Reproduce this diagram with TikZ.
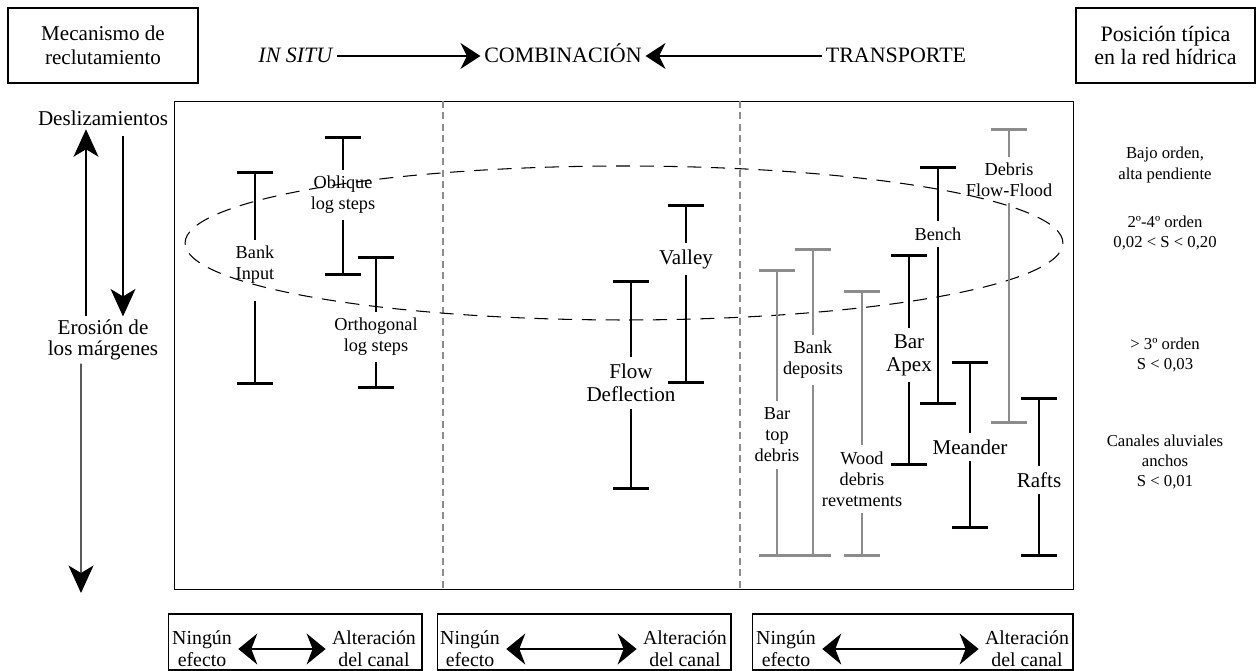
\documentclass[tikz,border=0pt]{standalone}
\usepackage{fontspec}
\setmainfont{Liberation Serif}
\usetikzlibrary{arrows.meta}

\begin{document}
\begin{tikzpicture}[x=0.02cm,y=-0.02cm]
  \tikzstyle{frame}=[draw,line width=0.6pt]
  \tikzstyle{head}=[font=\fontsize{12.5}{14}\selectfont,inner sep=2pt,text height=10.3pt,text depth=2.5pt]
  \tikzstyle{tbox}=[draw,line width=0.7pt,align=center,font=\fontsize{12}{13.6}\selectfont]
  \tikzstyle{side}=[align=center,inner sep=2pt,font=\fontsize{12}{11.5}\selectfont]
  \tikzstyle{rank}=[align=center,font=\fontsize{9.5}{11.4}\selectfont]
  \tikzstyle{bot}=[align=center,inner sep=3.5pt,font=\fontsize{11.3}{12.4}\selectfont]
  \tikzstyle{lbl}=[align=center,inner sep=3.5pt,font=\fontsize{10.4}{12}\selectfont]
  \tikzstyle{lblbig}=[align=center,inner sep=3.5pt,font=\fontsize{12}{13.2}\selectfont]
  \tikzstyle{stem}=[line width=1.5pt,{Bar[width=0.72cm]}-]
  \tikzstyle{stemgray}=[stem,draw=black!45]
  \tikzstyle{divider}=[draw=black!45,line width=1pt,dash pattern=on 4pt off 2.5pt]
  \tikzstyle{ring}=[line width=0.6pt,dash pattern=on 8pt off 5.5pt]
  \tikzstyle{harrow}=[line width=0.8pt,-{Stealth[length=0.4cm,width=0.52cm,inset=0.13cm]}]
  \tikzstyle{varrow}=[line width=0.6pt,-{Stealth[length=0.55cm,width=0.5cm,inset=0.15cm]}]
  \tikzstyle{barrow}=[line width=0.8pt,{Stealth[length=0.38cm,width=0.62cm,inset=0.12cm]}-{Stealth[length=0.38cm,width=0.62cm,inset=0.12cm]}]
  \useasboundingbox (0,0) rectangle (1256,671);

  % header
  \node[tbox,minimum width=3.8cm,minimum height=1.5cm] (mech) at (103,45.5) {Mecanismo de\\reclutamiento};
  \node[tbox,minimum width=3.58cm,minimum height=1.5cm,font=\fontsize{12.5}{13.6}\selectfont] (pos) at (1165.5,45.5) {Posición típica\\en la red hídrica};
  \node[head] (insitu) at (296,56) {\textit{IN SITU}};
  \node[head] (comb) at (563,56) {COMBINACIÓN};
  \node[head] (transp) at (896,56) {TRANSPORTE};
  \draw[harrow] (insitu) -- (comb);
  \draw[harrow] (transp) -- (comb);

  % main frame
  \node[frame,minimum width=18cm,minimum height=9.78cm] (main) at (624,345.5) {};
  \draw[divider] (443,101) -- (443,590);
  \draw[divider] (740,101) -- (740,590);
  \draw[ring] (624,243) ellipse [x radius=8.78cm, y radius=1.54cm];

  % left side
  \node[side] (desl) at (103,118) {Deslizamientos};
  \node[side] (eros) at (103,340) {Erosión de\\los márgenes};
  \coordinate (erosend) at (81,593);
  \draw[varrow] ([xshift=-0.34cm]eros.north) -- ([xshift=-0.34cm]desl.south);
  \draw[varrow] ([xshift=0.4cm,yshift=-4pt]desl.south) -- ([xshift=0.4cm]eros.north);
  \draw[varrow] ([xshift=-0.44cm]eros.south) -- (erosend);

  % right side
  \node[rank] (low) at (1165,165) {Bajo orden,\\alta pendiente};
  \node[rank] (mid) at (1165,233) {2º-4º orden\\0,02 < S < 0,20};
  \node[rank] (high) at (1165,355) {> 3º orden\\S < 0,03};
  \node[rank] (wide) at (1165,462) {Canales aluviales\\anchos\\S < 0,01};

  % in situ
  \coordinate (BIt) at (255,171); \coordinate (BIb) at (255,385);
  \node[lbl] (BI) at (255,265) {Bank\\Input};
  \draw[stem] (BIt) -- (BI); \draw[stem,shorten >=6pt] (BIb) -- (BI);
  \coordinate (OLt) at (343,136); \coordinate (OLb) at (343,276);
  \node[lbl] (OL) at (343,195) {Oblique\\log steps};
  \draw[stem] (OLt) -- (OL); \draw[stem] (OLb) -- (OL);
  \coordinate (ORt) at (376,256); \coordinate (ORb) at (376,389);
  \node[lbl] (OR) at (376,337) {Orthogonal\\log steps};
  \draw[stem] (ORt) -- (OR); \draw[stem] (ORb) -- (OR);

  % combinacion
  \coordinate (FDt) at (631,280); \coordinate (FDb) at (631,490);
  \node[lblbig] (FD) at (631,383) {Flow\\Deflection};
  \draw[stem] (FDt) -- (FD); \draw[stem] (FDb) -- (FD);
  \coordinate (VAt) at (686,204); \coordinate (VAb) at (686,384);
  \node[lblbig] (VA) at (686,259) {Valley};
  \draw[stem] (VAt) -- (VA); \draw[stem] (VAb) -- (VA);

  % transporte
  \coordinate (BTt) at (777,269); \coordinate (BTb) at (777,557);
  \node[lbl] (BT) at (777,435) {Bar\\top\\debris};
  \draw[stemgray] (BTt) -- (BT); \draw[stemgray] (BTb) -- (BT);
  \coordinate (BDt) at (813,248); \coordinate (BDb) at (813,557);
  \node[lbl] (BD) at (813,360) {Bank\\deposits};
  \draw[stemgray] (BDt) -- (BD); \draw[stemgray] (BDb) -- (BD);
  \coordinate (WDt) at (862,290); \coordinate (WDb) at (862,557);
  \node[lbl] (WD) at (862,479) {Wood\\debris\\revetments};
  \draw[stemgray] (WDt) -- (WD); \draw[stemgray] (WDb) -- (WD);
  \coordinate (BAt) at (909,254); \coordinate (BAb) at (909,466);
  \node[lblbig] (BA) at (909,355) {Bar\\Apex};
  \draw[stem] (BAt) -- (BA); \draw[stem] (BAb) -- (BA);
  \coordinate (BEt) at (938,166); \coordinate (BEb) at (938,405);
  \node[lbl] (BE) at (938,234) {Bench};
  \draw[stem] (BEt) -- (BE); \draw[stem] (BEb) -- (BE);
  \coordinate (DFt) at (1009,128); \coordinate (DFb) at (1009,424);
  \node[lbl] (DF) at (1009,180) {Debris\\Flow-Flood};
  \draw[stemgray] (DFt) -- (DF); \draw[stemgray] (DFb) -- (DF);
  \coordinate (MEt) at (970,361); \coordinate (MEb) at (970,529);
  \node[lblbig] (ME) at (970,447) {Meander};
  \draw[stem] (MEt) -- (ME); \draw[stem] (MEb) -- (ME);
  \coordinate (RAt) at (1039,397); \coordinate (RAb) at (1039,557);
  \node[lblbig] (RA) at (1039,480) {Rafts};
  \draw[stem] (RAt) -- (RA); \draw[stem] (RAb) -- (RA);

  % effect boxes
  \node[frame,minimum width=5.08cm,minimum height=1.12cm] (eff1) at (295,642) {};
  \node[frame,minimum width=5.88cm,minimum height=1.12cm] (eff2) at (584,642) {};
  \node[frame,minimum width=6.42cm,minimum height=1.12cm] (eff3) at (912.5,642) {};
  \node[bot] (none1) at (202,649) {Ningún\\efecto};
  \node[bot] (alt1) at (374,649) {Alteración\\del canal};
  \node[bot] (none2) at (470,649) {Ningún\\efecto};
  \node[bot] (alt2) at (685,649) {Alteración\\del canal};
  \node[bot] (none3) at (786,649) {Ningún\\efecto};
  \node[bot] (alt3) at (1027,649) {Alteración\\del canal};
  \draw[barrow] (none1) -- (alt1);
  \draw[barrow] (none2) -- (alt2);
  \draw[barrow] (none3) -- (alt3);
\end{tikzpicture}
\end{document}
